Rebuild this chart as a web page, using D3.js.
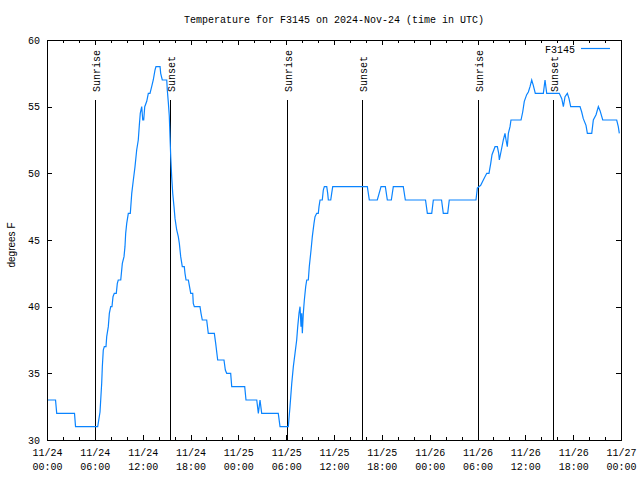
<!DOCTYPE html>
<html>
<head>
<meta charset="utf-8">
<script src="https://cdn.jsdelivr.net/npm/d3@7"></script>
<style>
  html, body { margin: 0; padding: 0; background: #fff; }
  text { font-family: "Liberation Mono", "DejaVu Sans Mono", monospace; font-size: 10px; fill: #000; }
</style>
</head>
<body>
<div id="chart"></div>
<script>
// hours since 2024-11-24 00:00 UTC, and temperature in degrees F
const obsHours = [
  0, 1.07, 1.22, 3.45, 3.58, 6.36, 6.65, 6.86, 6.94, 7.06,
  7.19, 7.40, 7.49, 7.69, 7.82, 7.99, 8.15, 8.28, 8.44, 8.69,
  8.82, 8.94, 9.25, 9.45, 9.66, 9.78, 9.87, 10.00, 10.20, 10.45,
  10.63, 10.83, 11.04, 11.25, 11.45, 11.58, 11.70, 11.88, 12.01, 12.13,
  12.26, 12.51, 12.71, 12.92, 13.13, 13.33, 13.55, 13.67, 14.18, 14.26,
  14.46, 15.02, 15.09, 15.22, 15.34, 15.43, 15.52, 15.64, 15.77, 15.93,
  16.06, 16.27, 16.47, 16.60, 16.77, 16.97, 17.22, 17.31, 17.44, 17.73,
  17.85, 18.03, 18.28, 18.35, 18.48, 19.19, 19.32, 19.48, 20.03, 20.23,
  20.99, 21.16, 21.41, 22.20, 22.37, 22.54, 23.04, 23.17, 24.80, 24.96,
  26.31, 26.51, 26.72, 26.93, 29.01, 29.23, 30.27, 30.48, 30.70, 30.90,
  31.11, 31.32, 31.45, 31.61, 31.74, 31.86, 31.95, 32.03, 32.15, 32.28,
  32.45, 32.58, 32.78, 32.90, 33.12, 33.28, 33.49, 33.62, 33.83, 34.03,
  34.12, 34.25, 34.53, 34.66, 34.79, 35.09, 35.21, 35.29, 35.59, 35.71,
  35.84, 40.18, 40.43, 41.43, 41.90, 42.44, 42.69, 43.19, 43.44, 44.69,
  44.95, 47.48, 47.71, 48.26, 48.46, 49.49, 49.71, 50.26, 50.46, 53.81,
  53.98, 54.40, 54.73, 55.16, 55.44, 55.66, 55.82, 56.20, 56.49, 56.66,
  56.74, 57.04, 57.24, 57.45, 57.58, 57.74, 57.87, 58.08, 58.20, 59.46,
  59.67, 59.87, 60.17, 60.38, 60.59, 60.80, 61.00, 61.25, 62.26, 62.47,
  62.68, 64.26, 64.57, 64.77, 64.98, 65.27, 65.48, 65.69, 66.86, 67.07,
  67.27, 67.61, 67.78, 68.33, 68.53, 68.87, 69.16, 69.37, 69.71, 71.46,
  71.66, 71.79
];
const obsTempF = [
  33, 33, 32, 32, 31, 31, 32.1, 34.25, 35.5, 36.75,
  37, 37, 37.75, 38.5, 39.5, 40, 40, 40.75, 41, 41,
  41.75, 42, 42, 43.25, 43.75, 44.5, 45.5, 46.25, 47, 47,
  48.5, 49.5, 50.5, 51.75, 52.5, 53.6, 54.5, 55, 54, 54,
  55, 55.4, 56, 56, 56.5, 57, 57.75, 58, 58, 57.5,
  57, 57, 56.25, 55.3, 54.3, 52.75, 51.25, 49.75, 48.5, 47.5,
  46.6, 45.75, 45.25, 44.75, 43.75, 43, 43, 42.5, 42, 42,
  41.6, 41, 41, 40.25, 40, 40, 39.5, 39, 39, 38,
  38, 37.25, 36, 36, 35.25, 35, 35, 34, 34, 33,
  33, 32, 33, 32, 32, 31, 31, 32.5, 34.25, 35.5,
  36.5, 37.5, 38.5, 39.5, 40, 38.5, 39.5, 38, 39.5, 40.5,
  41.5, 42, 42, 43, 44.25, 45.25, 46.25, 46.75, 47, 47,
  47.5, 48, 48, 48.75, 49, 49, 48.5, 48, 48, 48.5,
  49, 49, 48, 48, 49, 49, 48, 48, 49, 49,
  48, 48, 47, 47, 48, 48, 47, 47, 48, 48,
  48.9, 49.1, 49.5, 50, 50, 50.75, 51.4, 52, 52, 51.5,
  51, 51.9, 52.5, 53, 52.5, 52, 53, 53.5, 54, 54,
  54.6, 55.4, 55.9, 56.1, 56.5, 57, 56.6, 56, 56, 57,
  56, 56, 55.6, 55, 55.75, 56, 55.6, 55, 55, 54.6,
  54.1, 53.6, 53, 53, 54, 54.4, 55, 54.7, 54, 54,
  53.5, 53
];
const sunriseHours = [6.05, 30.14, 54.10];
const sunsetHours = [15.44, 39.55, 63.51];
const yTicks = [30, 35, 40, 45, 50, 55, 60];
const seriesName = "F3145";

const width = 640, height = 480;
const margin = { top: 40, right: 19, bottom: 40, left: 47 };
const lineColor = "#0a84ff";

const start = new Date(Date.UTC(2024, 10, 24, 0, 0));
const end = new Date(Date.UTC(2024, 10, 27, 0, 0));
const toDate = h => new Date(start.getTime() + h * 3600e3);

const data = obsHours.map((h, i) => ({ date: toDate(h), value: obsTempF[i] }));

const x = d3.scaleUtc().domain([start, end]).range([margin.left, width - margin.right]);
const y = d3.scaleLinear().domain([30, 60]).range([height - margin.bottom, margin.top]);

const svg = d3.select("#chart").append("svg")
    .attr("width", width)
    .attr("height", height);

svg.append("rect").attr("width", width).attr("height", height).attr("fill", "#fff");

// title
svg.append("text")
    .attr("x", (margin.left + width - margin.right) / 2)
    .attr("y", 23)
    .attr("text-anchor", "middle")
    .text("Temperature for F3145 on 2024-Nov-24 (time in UTC)");

// axes (gnuplot style: ticks inward, mirrored)
const majorTicks = d3.utcHour.every(6).range(start, d3.utcHour.offset(end, 1));
const minorTicks = d3.utcHour.every(2).range(start, end).filter(d => d.getUTCHours() % 6 !== 0);
const fmtDay = d3.utcFormat("%m/%d");
const fmtTime = d3.utcFormat("%H:%M");

function styleAxis(g) {
    g.select(".domain").remove();
    g.selectAll("line").attr("stroke", "#000").attr("shape-rendering", "crispEdges");
    g.attr("font-family", null).attr("font-size", null);
}

const xBottom = svg.append("g")
    .attr("transform", `translate(0,${height - margin.bottom})`)
    .call(d3.axisBottom(x).tickValues(majorTicks).tickSize(-5).tickPadding(9).tickFormat(""))
    .call(styleAxis);
xBottom.selectAll(".tick text").each(function(d) {
    const t = d3.select(this).attr("dy", null);
    t.append("tspan").attr("x", 0).attr("y", 16).text(fmtDay(d));
    t.append("tspan").attr("x", 0).attr("y", 30).text(fmtTime(d));
});
svg.append("g")
    .attr("transform", `translate(0,${height - margin.bottom})`)
    .call(d3.axisBottom(x).tickValues(minorTicks).tickSize(-3).tickFormat(""))
    .call(styleAxis);
svg.append("g")
    .attr("transform", `translate(0,${margin.top})`)
    .call(d3.axisTop(x).tickValues(majorTicks).tickSize(-5).tickFormat(""))
    .call(styleAxis);
svg.append("g")
    .attr("transform", `translate(0,${margin.top})`)
    .call(d3.axisTop(x).tickValues(minorTicks).tickSize(-3).tickFormat(""))
    .call(styleAxis);

svg.append("g")
    .attr("transform", `translate(${margin.left},0)`)
    .call(d3.axisLeft(y).tickValues(yTicks).tickSize(-5).tickPadding(7).tickFormat(d3.format("d")))
    .call(styleAxis);
svg.append("g")
    .attr("transform", `translate(${width - margin.right},0)`)
    .call(d3.axisRight(y).tickValues(yTicks).tickSize(-5).tickFormat(""))
    .call(styleAxis);

svg.append("text")
    .attr("transform", `translate(11,${(margin.top + height - margin.bottom) / 2 + 5}) rotate(-90)`)
    .attr("text-anchor", "middle")
    .attr("dy", "0.35em")
    .style("font-family", "'Liberation Sans', Arial, sans-serif")
    .text("degrees F");

// sunrise / sunset markers
const sunLineTop = 100;
const events = sunriseHours.map(h => ({ h, label: "Sunrise" }))
    .concat(sunsetHours.map(h => ({ h, label: "Sunset" })));

svg.selectAll("line.sun")
    .data(events)
    .enter()
    .append("line")
    .attr("class", "sun")
    .attr("x1", d => Math.round(x(toDate(d.h))) + 0.5)
    .attr("x2", d => Math.round(x(toDate(d.h))) + 0.5)
    .attr("y1", sunLineTop)
    .attr("y2", height - margin.bottom)
    .attr("stroke", "#000")
    .attr("stroke-width", 1);

svg.selectAll("text.sun")
    .data(events)
    .enter()
    .append("text")
    .attr("class", "sun")
    .attr("transform", d => `translate(${Math.round(x(toDate(d.h))) + 1.5},${sunLineTop - 8}) rotate(-90)`)
    .attr("dy", "0.35em")
    .text(d => d.label);

// temperature line
const line = d3.line()
    .x(d => x(d.date))
    .y(d => y(d.value));

svg.append("path")
    .datum(data)
    .attr("fill", "none")
    .attr("stroke", lineColor)
    .attr("stroke-width", 1.2)
    .attr("d", line);

// border
svg.append("rect")
    .attr("x", margin.left + 0.5)
    .attr("y", margin.top + 0.5)
    .attr("width", width - margin.left - margin.right)
    .attr("height", height - margin.top - margin.bottom)
    .attr("fill", "none")
    .attr("stroke", "#000")
    .attr("shape-rendering", "crispEdges");

// legend
svg.append("text")
    .attr("x", 575)
    .attr("y", 49)
    .attr("dy", "0.35em")
    .attr("text-anchor", "end")
    .text(seriesName);
svg.append("line")
    .attr("x1", 581).attr("x2", 610)
    .attr("y1", 48.5).attr("y2", 48.5)
    .attr("stroke", lineColor)
    .attr("stroke-width", 1.2);
</script>
</body>
</html>
